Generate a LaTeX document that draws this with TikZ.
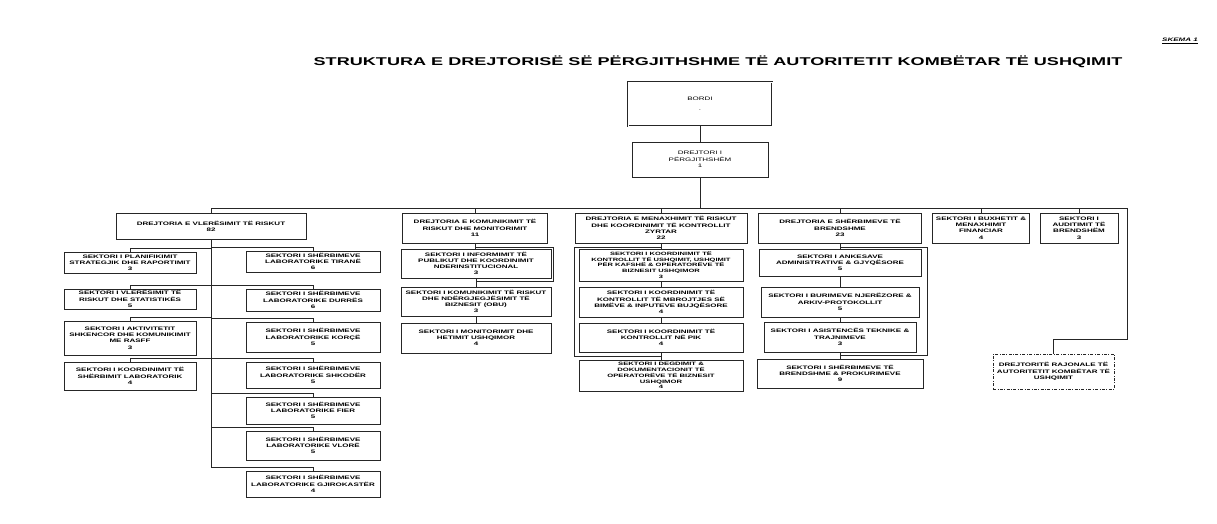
\documentclass[tikz,border=0pt]{standalone}
\usepackage{fontspec}
\newfontfamily\chartfont[FakeStretch=1.6]{Liberation Sans}
\usepackage{tikz}

\tikzset{
  box/.style={draw=black!85, line width=0.5pt, align=center, inner sep=1pt,
    font=\chartfont\bfseries\fontsize{5}{6.2}\selectfont},
  topbox/.style={box, font=\chartfont\fontsize{5}{6.6}\selectfont},
  conn/.style={draw=black!85, line width=0.5pt},
}

\begin{document}
\begin{tikzpicture}[x=1pt,y=-1pt]
      \pgfmathsetmacro{\busy}{208}
      \useasboundingbox (0,0) rectangle (1217,524);
      % Title
      \node[font=\chartfont\bfseries\fontsize{11.3}{13}\selectfont] (title) at (718,62)
        {STRUKTURA E DREJTORISË SË PËRGJITHSHME TË AUTORITETIT KOMBËTAR TË USHQIMIT};
      \node[font=\chartfont\bfseries\itshape\fontsize{5}{6}\selectfont] (skema) at (1180,41) {\underline{SKEMA 1}};
      % Board and general director
      \node[topbox, double, double distance=0.8pt, minimum width=144pt, minimum height=44pt,
        font=\chartfont\fontsize{5}{10}\selectfont] (bordi) at (700,104) {BORDI\\.};
      \node[topbox, minimum width=136pt, minimum height=35pt] (drejtori) at (700,159.5) {DREJTORI I\\PËRGJITHSHËM\\1};
      % Directorates
      \node[box, minimum width=190pt, minimum height=26pt] (dVler) at (211,226) {DREJTORIA E VLERËSIMIT TË RISKUT\\82};
      \node[box, minimum width=145pt, minimum height=30pt] (dKom) at (475,228) {DREJTORIA E KOMUNIKIMIT TË\\RISKUT DHE MONITORIMIT\\11};
      \node[box, minimum width=172pt, minimum height=30pt] (dMen) at (661,228) {DREJTORIA E MENAXHIMIT TË RISKUT\\DHE KOORDINIMIT TË KONTROLLIT\\ZYRTAR\\22};
      \node[box, minimum width=163pt, minimum height=30pt] (dSherb) at (840,228) {DREJTORIA E SHËRBIMEVE TË\\BRENDSHME\\23};
      \node[box, minimum width=97pt, minimum height=30pt] (sBux) at (981,228) {SEKTORI I BUXHETIT \&\\MENAXHIMIT\\FINANCIAR\\4};
      \node[box, minimum width=78pt, minimum height=30pt] (sAud) at (1079,228) {SEKTORI I\\AUDITIMIT TË\\BRENDSHËM\\3};
      % Risk assessment sectors
      \node[box, minimum width=132pt, minimum height=21pt] (lPlan) at (130,262.5) {SEKTORI I PLANIFIKIMIT\\STRATEGJIK DHE RAPORTIMIT\\3};
      \node[box, minimum width=132pt, minimum height=20pt] (lVlr) at (130,299) {SEKTORI I VLERËSIMIT TË\\RISKUT DHE STATISTIKËS\\5};
      \node[box, minimum width=132pt, minimum height=34pt] (lAkt) at (130,338) {SEKTORI I AKTIVITETIT\\SHKENCOR DHE KOMUNIKIMIT\\ME RASFF\\3};
      \node[box, minimum width=132pt, minimum height=28pt] (lKoord) at (130,376) {SEKTORI I KOORDINIMIT TË\\SHËRBIMIT LABORATORIK\\4};
      \node[box, minimum width=134pt, minimum height=21pt] (rTir) at (313,261.5) {SEKTORI I SHËRBIMEVE\\LABORATORIKE TIRANË\\6};
      \node[box, minimum width=134pt, minimum height=22pt] (rDur) at (313,300) {SEKTORI I SHËRBIMEVE\\LABORATORIKE DURRËS\\6};
      \node[box, minimum width=134pt, minimum height=30pt] (rKor) at (313,337) {SEKTORI I SHËRBIMEVE\\LABORATORIKE KORÇË\\5};
      \node[box, minimum width=134pt, minimum height=26pt] (rShk) at (313,375) {SEKTORI I SHËRBIMEVE\\LABORATORIKE SHKODËR\\5};
      \node[box, minimum width=134pt, minimum height=27pt] (rFie) at (313,410.5) {SEKTORI I SHËRBIMEVE\\LABORATORIKE FIER\\5};
      \node[box, minimum width=134pt, minimum height=29pt] (rVlo) at (313,445.5) {SEKTORI I SHËRBIMEVE\\LABORATORIKE VLORË\\5};
      \node[box, minimum width=134pt, minimum height=26pt] (rGji) at (313,484) {SEKTORI I SHËRBIMEVE\\LABORATORIKE GJIROKASTËR\\4};
      % Communication sectors
      \node[box, minimum width=150pt, minimum height=29pt] (kInf) at (476,263.5) {SEKTORI I INFORMIMIT TË\\PUBLIKUT DHE KOORDINIMIT\\NDERINSTITUCIONAL\\3};
      \node[box, minimum width=150pt, minimum height=29pt] (kKom) at (476,301.5) {SEKTORI I KOMUNIKIMIT TË RISKUT\\DHE NDËRGJEGJËSIMIT TË\\BIZNESIT (OBU)\\3};
      \node[box, minimum width=150pt, minimum height=30pt] (kMon) at (476,338) {SEKTORI I MONITORIMIT DHE\\HETIMIT USHQIMOR\\4};
      % Control coordination sectors
      \node[box, minimum width=164pt, minimum height=32pt, font=\chartfont\bfseries\fontsize{4.7}{5.9}\selectfont] (mKaf) at (661,265)
        {SEKTORI I KOORDINIMIT TË\\KONTROLLIT TË USHQIMIT, USHQIMIT\\PËR KAFSHË \& OPERATORËVE TË\\BIZNESIT USHQIMOR\\3};
      \node[box, minimum width=164pt, minimum height=30pt] (mMbr) at (661,302) {SEKTORI I KOORDINIMIT TË\\KONTROLLIT TË MBROJTJES SË\\BIMËVE \& INPUTEVE BUJQËSORE\\4};
      \node[box, minimum width=164pt, minimum height=29pt] (mPik) at (661,337.5) {SEKTORI I KOORDINIMIT TË\\KONTROLLIT NË PIK\\4};
      \node[box, minimum width=164pt, minimum height=31pt, font=\chartfont\bfseries\fontsize{4.8}{5.9}\selectfont] (mDok) at (661,375.5)
        {SEKTORI I DEGDIMIT \&\\DOKUMENTACIONIT TË\\OPERATORËVE TË BIZNESIT\\USHQIMOR\\4};
      % Internal services sectors
      \node[box, minimum width=162pt, minimum height=27pt] (sAnk) at (840,262.5) {SEKTORI I ANKESAVE\\ADMINISTRATIVE \& GJYQËSORE\\5};
      \node[box, minimum width=158pt, minimum height=30pt] (sBur) at (840,302) {SEKTORI I BURIMEVE NJERËZORE \&\\ARKIV-PROTOKOLLIT\\5};
      \node[box, minimum width=152pt, minimum height=30pt] (sAsi) at (840,337) {SEKTORI I ASISTENCËS TEKNIKE \&\\TRAJNIMEVE\\3};
      \node[box, minimum width=166pt, minimum height=29pt] (sShe) at (840,373.5) {SEKTORI I SHËRBIMEVE TË\\BRENDSHME \& PROKURIMEVE\\9};
      % Regional directorates
      \node[box, dash pattern=on 3pt off 1.5pt on 0.8pt off 1.5pt, minimum width=121pt, minimum height=35pt] (rajonale) at (1053.5,371.5)
        {DREJTORITË RAJONALE TË\\AUTORITETIT KOMBËTAR TË\\USHQIMIT};
      % Main line and bus
      \coordinate (busE) at (1127,\busy);
      \coordinate (turn) at (1127,339);
      \draw[conn] (bordi) -- (drejtori);
      \draw[conn] (drejtori) -- (drejtori.south |- busE);
      \draw[conn] (dVler.north) |- (busE) -- (turn) -| (rajonale.north);
      \foreach \n in {dKom,dMen,dSherb,sBux,sAud}
        \draw[conn] (\n.north) -- (\n.north |- busE);
      % Risk assessment tree
      \draw[conn] (dVler.south) |- ([yshift=4pt]rGji.north) -- (rGji.north);
      \foreach \b in {lPlan,lVlr,lAkt,lKoord,rTir,rDur,rKor,rShk,rFie,rVlo}
        \draw[conn] (dVler.south |- \b.north) ++(0,-4) -| (\b.north);
      % Column chains
      \foreach \a/\b in {dKom/kInf,kInf/kKom,kKom/kMon,dMen/mKaf,mKaf/mMbr,mMbr/mPik,mPik/mDok,dSherb/sAnk,sAnk/sBur,sBur/sAsi,sAsi/sShe}
        \draw[conn] (\a.south) -- (\a.south |- \b.north);
      \draw[conn] ([yshift=-4pt]dKom.south) -| ([xshift=2pt,yshift=-3pt]kInf.south east) -- ([yshift=-3pt]kInf.south);
      \draw[conn] ([yshift=-4pt]dMen.south) -| ([xshift=-5pt,yshift=4pt]mDok.north west) -| (mDok.north);
      \draw[conn] ([yshift=-4pt]dSherb.south) -| ([xshift=4pt,yshift=4pt]sShe.north east) -| (sShe.north);
\end{tikzpicture}
\end{document}
